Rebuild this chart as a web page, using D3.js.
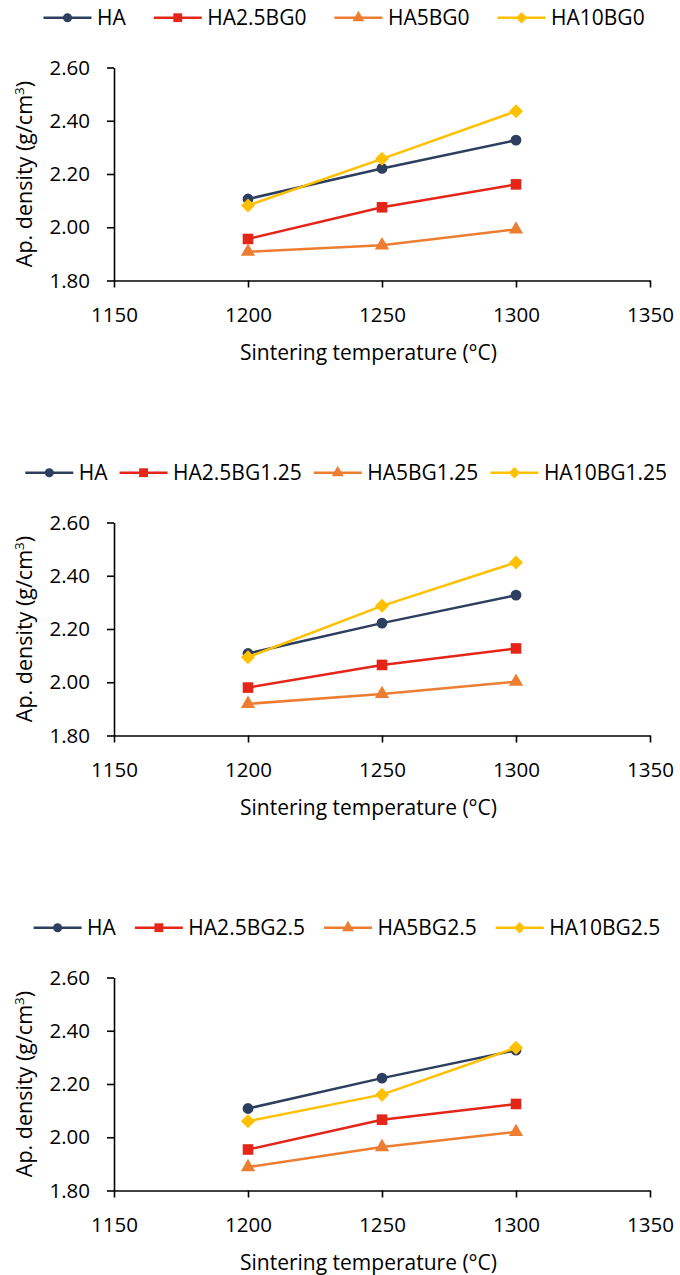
<!DOCTYPE html>
<html><head><meta charset="utf-8">
<script src="https://cdn.jsdelivr.net/npm/d3@7"></script>
<style>
body{margin:0;background:#fff;}
svg{display:block;font-family:"Open Sans",sans-serif;}
</style></head>
<body><svg id="c" width="680" height="1275"></svg>
<script>
// ---- data ----
const temps = [1200, 1250, 1300];
const xTicks = [1150, 1200, 1250, 1300, 1350];
const yTicks = [1.80, 2.00, 2.20, 2.40, 2.60];
const xTitle = "Sintering temperature (°C)";

const names1 = ["HA", "HA2.5BG0", "HA5BG0", "HA10BG0"];
const ha_1 = [2.106, 2.221, 2.327];
const ha25_1 = [1.956, 2.075, 2.161];
const ha5_1 = [1.908, 1.932, 1.992];
const ha10_1 = [2.082, 2.257, 2.436];

const names2 = ["HA", "HA2.5BG1.25", "HA5BG1.25", "HA10BG1.25"];
const ha_2 = [2.108, 2.222, 2.327];
const ha25_2 = [1.980, 2.065, 2.127];
const ha5_2 = [1.919, 1.956, 2.002];
const ha10_2 = [2.094, 2.287, 2.450];

const names3 = ["HA", "HA2.5BG2.5", "HA5BG2.5", "HA10BG2.5"];
const ha_3 = [2.108, 2.222, 2.327];
const ha25_3 = [1.954, 2.066, 2.125];
const ha5_3 = [1.888, 1.963, 2.020];
const ha10_3 = [2.060, 2.160, 2.336];

// ---- styling / layout ----
const colors = ["#2C3F5E", "#E42518", "#ED7D31", "#FFC000"];
const shapes = ["circle", "square", "triangle", "diamond"];
const panels = [
  {names: names1, values: [ha_1, ha25_1, ha5_1, ha10_1], top: 67.5, legX: 43.5, legGap: 28},
  {names: names2, values: [ha_2, ha25_2, ha5_2, ha10_2], top: 522.5, legX: 25.3, legGap: 12},
  {names: names3, values: [ha_3, ha25_3, ha5_3, ha10_3], top: 977.5, legX: 33.6, legGap: 19}
];
const plotH = 213, left = 114, right = 650;

const svg = d3.select("#c");

function symbolPath(shape, big) {
  let type, size;
  if (shape === "circle") { type = d3.symbolCircle; size = big ? 92 : 64; }
  else if (shape === "square") { type = d3.symbolSquare; size = big ? 112 : 78; }
  else if (shape === "triangle") { type = d3.symbolTriangle; size = big ? 88 : 62; }
  else { type = d3.symbolSquare; size = big ? 98 : 66; }
  return d3.symbol().type(type).size(size)();
}

panels.forEach((p, pi) => {
  const g = svg.append("g");
  const x = d3.scaleLinear().domain([1150, 1350]).range([left, right]);
  const y = d3.scaleLinear().domain([1.80, 2.60]).range([p.top + plotH, p.top]);

  // axes
  const xAxis = d3.axisBottom(x).tickValues(xTicks).tickSize(7).tickSizeOuter(0).tickFormat(d3.format("d"));
  const gx = g.append("g").attr("transform", `translate(0,${p.top + plotH})`).call(xAxis);
  const yAxis = d3.axisLeft(y).tickValues(yTicks).tickSize(7).tickSizeOuter(0).tickFormat(d3.format(".2f"));
  const gy = g.append("g").attr("transform", `translate(${left},0)`).call(yAxis);
  [gx, gy].forEach(a => {
    a.select(".domain").attr("stroke", "#000").attr("stroke-width", 1.6);
    a.selectAll(".tick line").attr("stroke", "#000").attr("stroke-width", 1.6);
    a.selectAll(".tick text").attr("fill", "#000").style("font-size", "20.5px")
      .style("font-family", '"Open Sans",sans-serif');
  });
  gx.selectAll(".tick text").attr("y", 41).attr("dy", 0);
  gy.selectAll(".tick text").attr("x", -24);

  // titles
  g.append("text").attr("x", 368.5).attr("y", p.top + plotH + 79)
    .attr("text-anchor", "middle").style("font-size", "21px").attr("fill", "#000").text(xTitle);
  const yt = g.append("text").attr("transform", `translate(32,${p.top + plotH / 2}) rotate(-90)`)
    .attr("text-anchor", "middle").style("font-size", "21.5px").attr("fill", "#000");
  yt.append("tspan").text("Ap. density (g/cm");
  yt.append("tspan").attr("dy", -8).style("font-size", "13.5px").text("3");
  yt.append("tspan").attr("dy", 8).text(")");

  // series
  const line = d3.line().x((d, i) => x(temps[i])).y(d => y(d));
  p.values.forEach((vals, si) => {
    g.append("path").datum(vals).attr("d", line).attr("fill", "none")
      .attr("stroke", colors[si]).attr("stroke-width", 2.5);
    g.selectAll(null).data(vals).enter().append("path")
      .attr("d", symbolPath(shapes[si], true))
      .attr("transform", (d, i) => `translate(${x(temps[i])},${y(d)})${shapes[si] === "diamond" ? " rotate(45)" : ""}`)
      .attr("fill", colors[si]);
  });

  // legend
  const ly = p.top - 49.8;
  let cx = p.legX;
  p.names.forEach((n, si) => {
    const lg = g.append("g");
    lg.append("line").attr("x1", cx).attr("x2", cx + 48).attr("y1", ly).attr("y2", ly)
      .attr("stroke", colors[si]).attr("stroke-width", 2.5);
    lg.append("path").attr("d", symbolPath(shapes[si], false))
      .attr("transform", `translate(${cx + 24},${ly})${shapes[si] === "diamond" ? " rotate(45)" : ""}`)
      .attr("fill", colors[si]);
    const t = lg.append("text").attr("x", cx + 53.5).attr("y", ly + 7.6)
      .style("font-size", "21px").attr("fill", "#000").text(n);
    cx = cx + 53.5 + t.node().getComputedTextLength() + p.legGap;
  });
});
</script></body></html>
